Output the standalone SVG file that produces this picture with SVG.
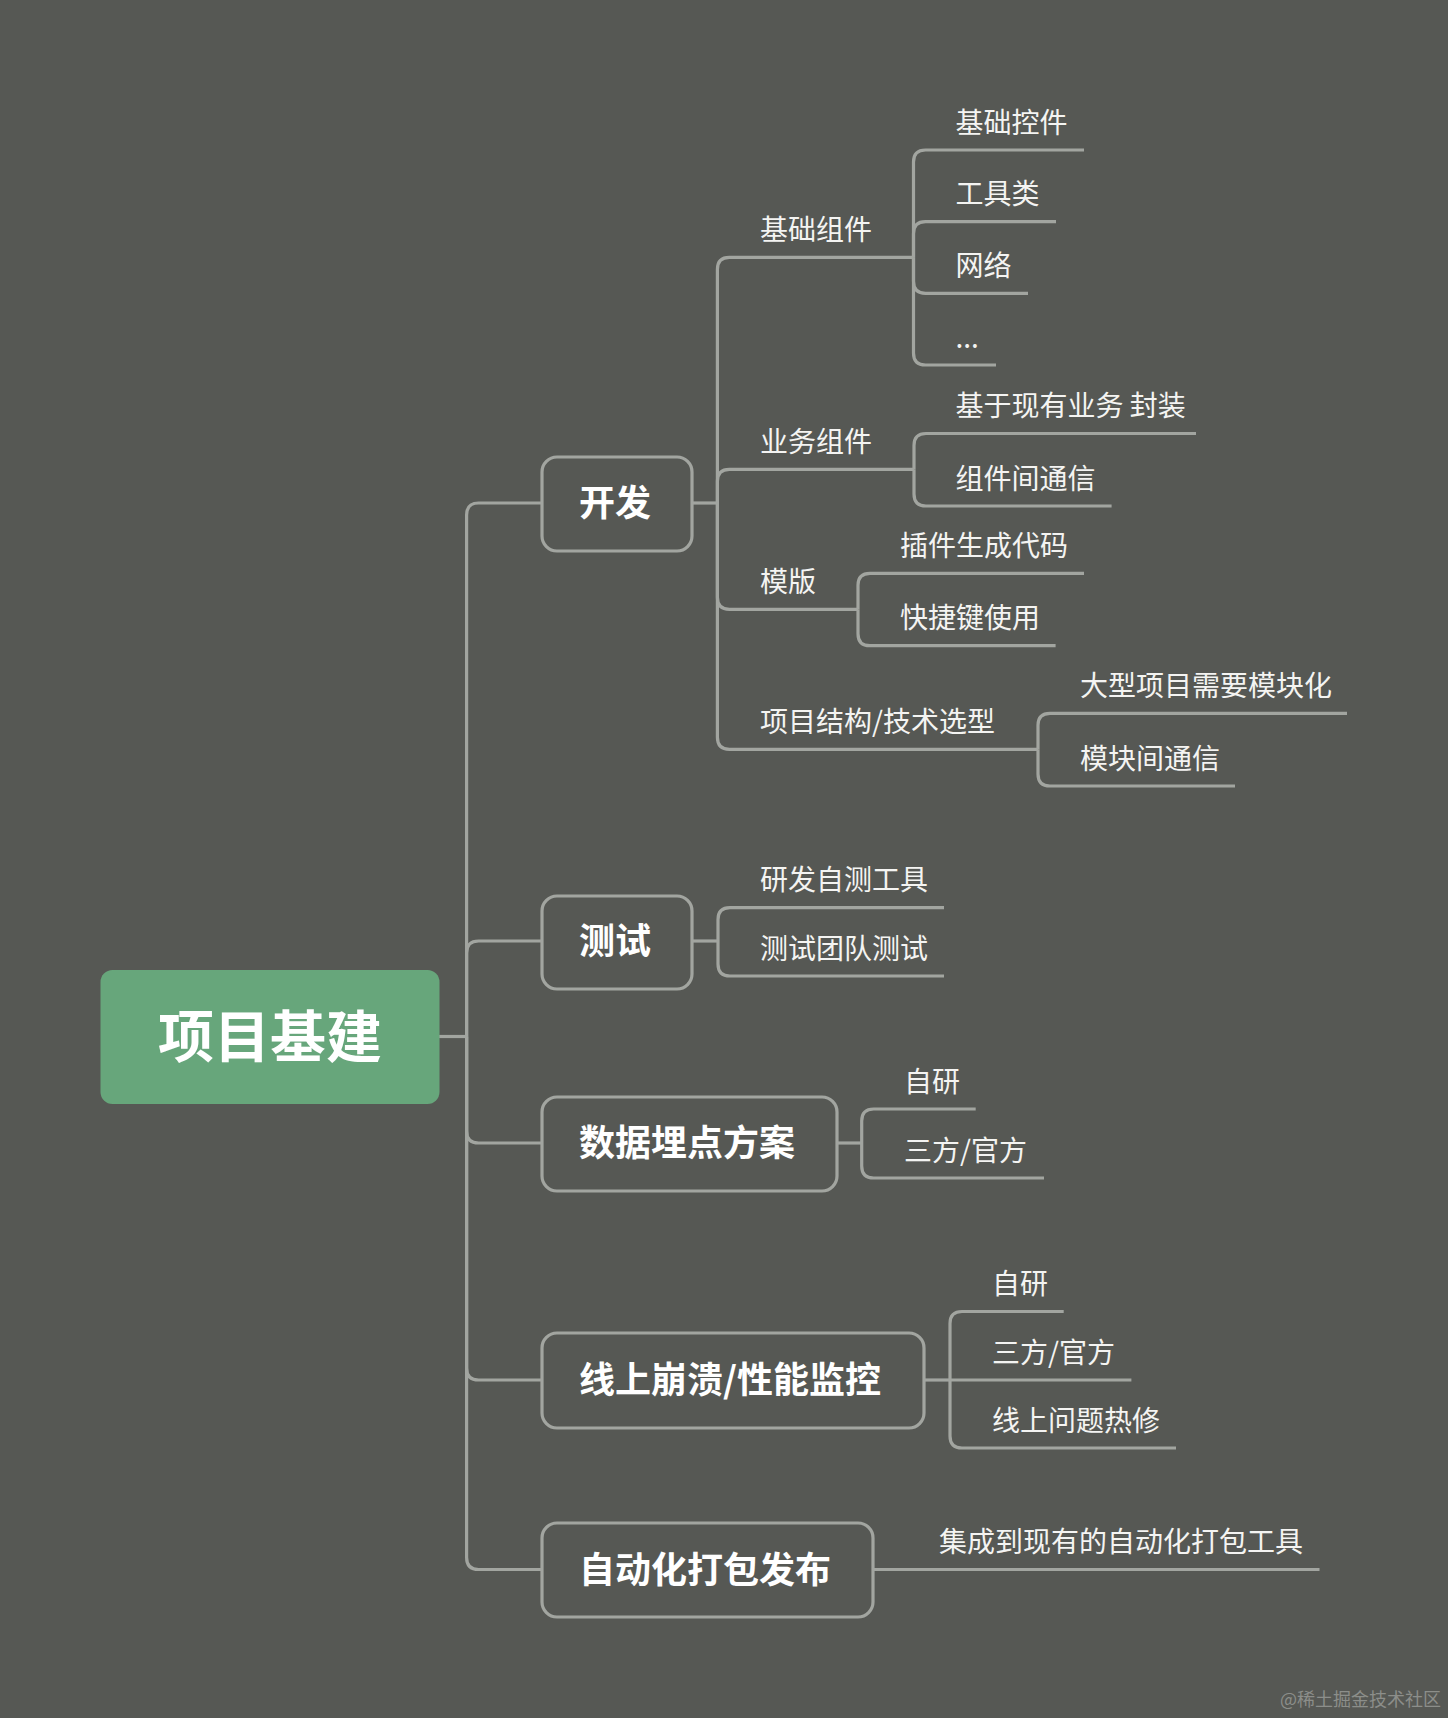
<svg xmlns="http://www.w3.org/2000/svg" width="1448" height="1718" viewBox="0 0 1448 1718">
<style>
.bg{fill:#565854}
.ln{fill:none;stroke:#a2a5a0;stroke-width:3.2;stroke-linecap:butt}
.box{fill:#565854;stroke:#a2a5a0;stroke-width:3.2}
.root{fill:#67a67b}
.t0{font-family:"Noto Sans CJK SC","Noto Sans",sans-serif;font-size:56px;font-weight:700;fill:#ffffff}
.t1{font-family:"Noto Sans CJK SC","Noto Sans",sans-serif;font-size:36px;font-weight:700;fill:#ffffff}
.t2{font-family:"Noto Sans CJK SC","Noto Sans",sans-serif;font-size:28px;font-weight:400;fill:#f4f4f2}
.wm{font-family:"Noto Sans CJK SC",sans-serif;font-size:18px;fill:#8c8e8a}
</style>
<rect class="bg" x="0" y="0" width="1448" height="1718"/>
<g id="connectors">
<path class="ln" d="M439,1036.5 H466.6"/>
<path class="ln" d="M466.6,1036.5 V515 Q466.6,503 478.6,503 H542"/>
<path class="ln" d="M466.6,1036.5 V953 Q466.6,941 478.6,941 H542"/>
<path class="ln" d="M466.6,1036.5 V1131 Q466.6,1143 478.6,1143 H542"/>
<path class="ln" d="M466.6,1036.5 V1368 Q466.6,1380 478.6,1380 H542"/>
<path class="ln" d="M466.6,1036.5 V1557.5 Q466.6,1569.5 478.6,1569.5 H542"/>
<path class="ln" d="M692,503 H717.4"/>
<path class="ln" d="M717.4,503 V269.4 Q717.4,257.4 729.4,257.4 H913.5"/>
<path class="ln" d="M717.4,503 V481.3 Q717.4,469.3 729.4,469.3 H914"/>
<path class="ln" d="M717.4,503 V597.3 Q717.4,609.3 729.4,609.3 H858"/>
<path class="ln" d="M717.4,503 V737.3 Q717.4,749.3 729.4,749.3 H1038"/>
<path class="ln" d="M913.5,257.4 V162 Q913.5,150 925.5,150 H1084"/>
<path class="ln" d="M913.5,257.4 V233.7 Q913.5,221.7 925.5,221.7 H1056"/>
<path class="ln" d="M913.5,257.4 V281.3 Q913.5,293.3 925.5,293.3 H1028"/>
<path class="ln" d="M913.5,257.4 V353 Q913.5,365 925.5,365 H996"/>
<path class="ln" d="M914,469.3 V445.5 Q914,433.5 926,433.5 H1196"/>
<path class="ln" d="M914,469.3 V494 Q914,506 926,506 H1111.6"/>
<path class="ln" d="M858,609.3 V585.3 Q858,573.3 870,573.3 H1084"/>
<path class="ln" d="M858,609.3 V633.7 Q858,645.7 870,645.7 H1055.6"/>
<path class="ln" d="M1038,749.3 V725.3 Q1038,713.3 1050,713.3 H1347"/>
<path class="ln" d="M1038,749.3 V774 Q1038,786 1050,786 H1235"/>
<path class="ln" d="M692,941 H718"/>
<path class="ln" d="M718,941 V919.7 Q718,907.7 730,907.7 H944"/>
<path class="ln" d="M718,941 V964 Q718,976 730,976 H944"/>
<path class="ln" d="M837,1143 H861.7"/>
<path class="ln" d="M861.7,1143 V1121 Q861.7,1109 873.7,1109 H975.7"/>
<path class="ln" d="M861.7,1143 V1166 Q861.7,1178 873.7,1178 H1044"/>
<path class="ln" d="M924,1380 H950"/>
<path class="ln" d="M950,1380 V1323.5 Q950,1311.5 962,1311.5 H1063.7"/>
<path class="ln" d="M950,1380 H1131.4"/>
<path class="ln" d="M950,1380 V1436 Q950,1448 962,1448 H1176"/>
<path class="ln" d="M873,1569.5 H1319.5"/>
</g>
<g id="root"><rect class="root" x="100.5" y="970" width="339" height="134" rx="12"/><text class="t0" x="270" y="1057" text-anchor="middle">项目基建</text></g>
<g id="kaifa"><rect class="box" x="542" y="457" width="150" height="94" rx="15"/><text class="t1" x="579" y="516">开发</text></g>
<g id="ceshi"><rect class="box" x="542" y="896" width="150" height="93" rx="15"/><text class="t1" x="579" y="954">测试</text></g>
<g id="shuju"><rect class="box" x="542" y="1097" width="295" height="94" rx="15"/><text class="t1" x="579" y="1156">数据埋点方案</text></g>
<g id="xianshang"><rect class="box" x="542" y="1333" width="382" height="95" rx="15"/><text class="t1" x="579" y="1393">线上崩溃/性能监控</text></g>
<g id="zidonghua"><rect class="box" x="542" y="1523" width="331" height="94" rx="15"/><text class="t1" x="579" y="1582.5">自动化打包发布</text></g>
<g id="jichuzujian"><text class="t2" x="760" y="240">基础组件</text></g>
<g id="jichukongjian"><text class="t2" x="955.5" y="132.5">基础控件</text></g>
<g id="gongjulei"><text class="t2" x="955.5" y="204">工具类</text></g>
<g id="wangluo"><text class="t2" x="955.5" y="276">网络</text></g>
<g id="etc"><text class="t2" x="955.5" y="348">...</text></g>
<g id="yewuzujian"><text class="t2" x="760" y="452">业务组件</text></g>
<g id="fengzhuang"><text class="t2" x="955.5" y="416">基于现有业务 封装</text></g>
<g id="zujiantongxin"><text class="t2" x="955.5" y="488.5">组件间通信</text></g>
<g id="moban"><text class="t2" x="760" y="592">模版</text></g>
<g id="chajian"><text class="t2" x="900" y="556">插件生成代码</text></g>
<g id="kuaijiejian"><text class="t2" x="900" y="628">快捷键使用</text></g>
<g id="jiegou"><text class="t2" x="760" y="732">项目结构/技术选型</text></g>
<g id="mokuaihua"><text class="t2" x="1080" y="696">大型项目需要模块化</text></g>
<g id="mokuaitongxin"><text class="t2" x="1080" y="768.5">模块间通信</text></g>
<g id="zice"><text class="t2" x="760" y="890">研发自测工具</text></g>
<g id="tuandui"><text class="t2" x="760" y="958.5">测试团队测试</text></g>
<g id="ziyan1"><text class="t2" x="904" y="1091.5">自研</text></g>
<g id="sanfang1"><text class="t2" x="904" y="1160.5">三方/官方</text></g>
<g id="ziyan2"><text class="t2" x="992" y="1294">自研</text></g>
<g id="sanfang2"><text class="t2" x="992" y="1362.5">三方/官方</text></g>
<g id="rexiu"><text class="t2" x="992" y="1430.5">线上问题热修</text></g>
<g id="jicheng"><text class="t2" x="939" y="1552">集成到现有的自动化打包工具</text></g>
<text class="wm" x="1280" y="1706">@稀土掘金技术社区</text>
</svg>
